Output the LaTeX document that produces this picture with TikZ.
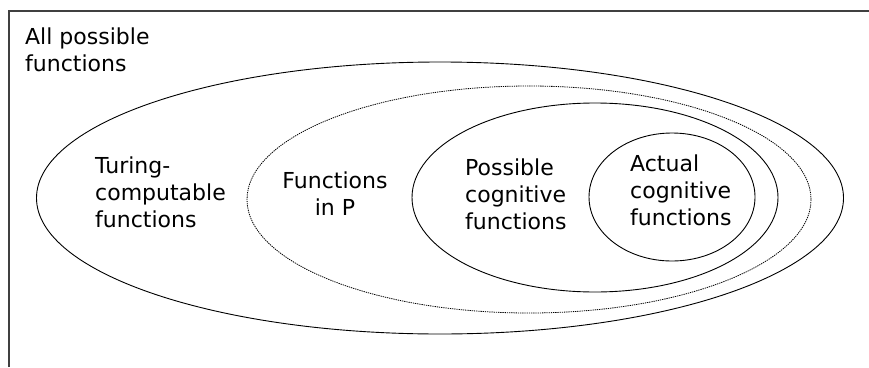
\documentclass[tikz,border=0pt]{standalone}
\usepackage{fontspec}
\setmainfont{DejaVu Sans}
\begin{document}
\begin{tikzpicture}[x=1pt,y=-1pt,
  lab/.style={anchor=base west, align=left, inner sep=0pt, font=\fontsize{22}{27}\selectfont},
  ell/.style={draw=black, line width=0.9pt}]
\useasboundingbox (0,0) rectangle (869,367);
\draw[line width=1.3pt, draw=black!75] (9,367) -- (9,11) -- (869,11);
\draw[ell] (440,198) ellipse [x radius=403.5pt, y radius=136pt];
\draw[ell, dash pattern=on 1.3pt off 0.9pt, line width=0.8pt] (529,199.5) ellipse [x radius=282pt, y radius=113.5pt];
\draw[ell] (595,197.5) ellipse [x radius=183pt, y radius=94.5pt];
\draw[ell] (672,197) ellipse [x radius=83pt, y radius=64pt];
% base anchor of a multi-line node sits on its last line
\node[lab] (all) at (25,71) {All possible\\functions};
\node[lab] (turing) at (95,227) {Turing-\\computable\\functions};
\node[lab, align=center, anchor=base] (inp) at (335,215) {Functions\\in P};
\node[lab] (poss) at (465,229) {Possible\\cognitive\\functions};
\node[lab] (act) at (630,225) {Actual\\cognitive\\functions};
\end{tikzpicture}
\end{document}
